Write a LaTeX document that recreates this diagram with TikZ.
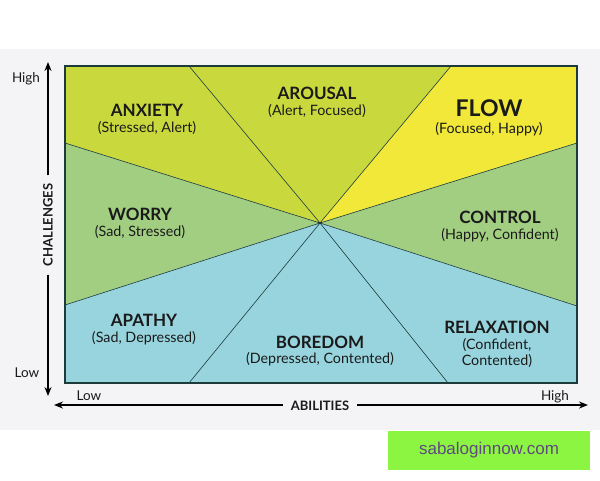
\documentclass[tikz,border=0pt]{standalone}
\usepackage{fontspec}
\setmainfont{Lato}
\newfontfamily\wmfont{Liberation Sans}
\usetikzlibrary{arrows.meta}
\definecolor{bgc}{HTML}{F4F4F7}
\definecolor{ygreen}{HTML}{C9D83C}
\definecolor{yel}{HTML}{F1E83A}
\definecolor{lgreen}{HTML}{A2CE82}
\definecolor{lblue}{HTML}{97D4DE}
\definecolor{edge}{HTML}{1E3B3C}
\definecolor{txt}{HTML}{1A1A1A}
\definecolor{wmgreen}{HTML}{8CF542}
\definecolor{wmtext}{HTML}{5E4A7E}
\tikzset{
  region/.style={draw=edge, line width=0.6pt, line join=miter},
  title/.style={font=\fontsize{17}{19}\selectfont\bfseries, text=txt, inner sep=0pt},
  sub/.style={font=\fontsize{14.3}{16}\selectfont, text=txt, inner sep=0pt, align=center},
  axlab/.style={font=\fontsize{13}{14}\selectfont\bfseries, text=txt, inner sep=0pt},
  small/.style={font=\fontsize{13.5}{15}\selectfont, text=txt, inner sep=0pt},
  axarrow/.style={line width=1.6pt, draw=black, -{Stealth[length=9pt,width=7pt]}}
}
\begin{document}
\begin{tikzpicture}[x=1pt,y=-1pt]
\useasboundingbox (0,0) rectangle (600,480);
\fill[white] (0,0) rectangle (600,480);
\fill[bgc] (0,49) rectangle (600,430);
% key points
\coordinate (c) at (320,223);
\coordinate (tl) at (65,66);
\coordinate (tr) at (577,66);
\coordinate (br) at (577,383);
\coordinate (bl) at (65,383);
\coordinate (t1) at (189,66);
\coordinate (t2) at (451,66);
\coordinate (r1) at (577,143);
\coordinate (r2) at (577,306);
\coordinate (b2) at (448,383);
\coordinate (b1) at (189,383);
\coordinate (l2) at (65,305);
\coordinate (l1) at (65,143);
% regions
\fill[ygreen] (l1) -- (tl) -- (t1) -- (c) -- cycle;
\fill[ygreen] (t1) -- (t2) -- (c) -- cycle;
\fill[yel] (t2) -- (tr) -- (r1) -- (c) -- cycle;
\fill[lgreen] (r1) -- (r2) -- (c) -- cycle;
\fill[lgreen] (l1) -- (c) -- (l2) -- cycle;
\fill[lblue] (l2) -- (c) -- (b1) -- (bl) -- cycle;
\fill[lblue] (b1) -- (c) -- (b2) -- cycle;
\fill[lblue] (b2) -- (c) -- (r2) -- (br) -- cycle;
\draw[region] (c) -- (t1) (c) -- (t2) (c) -- (r1) (c) -- (r2)
  (c) -- (b2) (c) -- (b1) (c) -- (l2) (c) -- (l1);
\draw[draw=edge, line width=1.4pt] (tl) rectangle (br);
% labels
\node[title] (anx) at (147,110) {ANXIETY};
\node[sub] (anxs) at (147,128) {(Stressed, Alert)};
\node[title] (aro) at (317,93) {AROUSAL};
\node[sub] (aros) at (317,111) {(Alert, Focused)};
\node[title, font=\fontsize{23}{25}\selectfont\bfseries] (flow) at (489,108) {FLOW};
\node[sub] (flows) at (489,129) {(Focused, Happy)};
\node[title] (wor) at (140,214) {WORRY};
\node[sub] (wors) at (140,232) {(Sad, Stressed)};
\node[title] (con) at (500,217) {CONTROL};
\node[sub] (cons) at (500,235) {(Happy, Confident)};
\node[title] (apa) at (144,320) {APATHY};
\node[sub] (apas) at (144,338) {(Sad, Depressed)};
\node[title] (bor) at (320,342) {BOREDOM};
\node[sub] (bors) at (320,359) {(Depressed, Contented)};
\node[title] (rel) at (497,327) {RELAXATION};
\node[sub] (rels) at (497,353) {(Confident,\\Contented)};
% vertical axis
\node[axlab, rotate=90] (chal) at (48,225) {CHALLENGES};
\coordinate (vtop) at (48,62);
\coordinate (vbot) at (48,396);
\draw[axarrow] (chal.east) ++(0,-8) -- (vtop);
\draw[axarrow] (chal.west) ++(0,8) -- (vbot);
\node[small] (hi) at (26,79) {High};
\node[small] (lo) at (27,373) {Low};
% horizontal axis
\node[axlab] (abil) at (320,406) {ABILITIES};
\coordinate (hleft) at (54,405);
\coordinate (hright) at (588,405);
\draw[axarrow] (abil.west) ++(-8,-1) -- (hleft);
\draw[axarrow] (abil.east) ++(8,-1) -- (hright);
\node[small] (hlo) at (89,396) {Low};
\node[small] (hhi) at (555,397) {High};
% watermark
\fill[wmgreen] (388,431) rectangle (590,470);
\node[font=\wmfont\fontsize{17}{19}\selectfont, text=wmtext, inner sep=0pt] (wm) at (489,450) {sabaloginnow.com};
\end{tikzpicture}
\end{document}
